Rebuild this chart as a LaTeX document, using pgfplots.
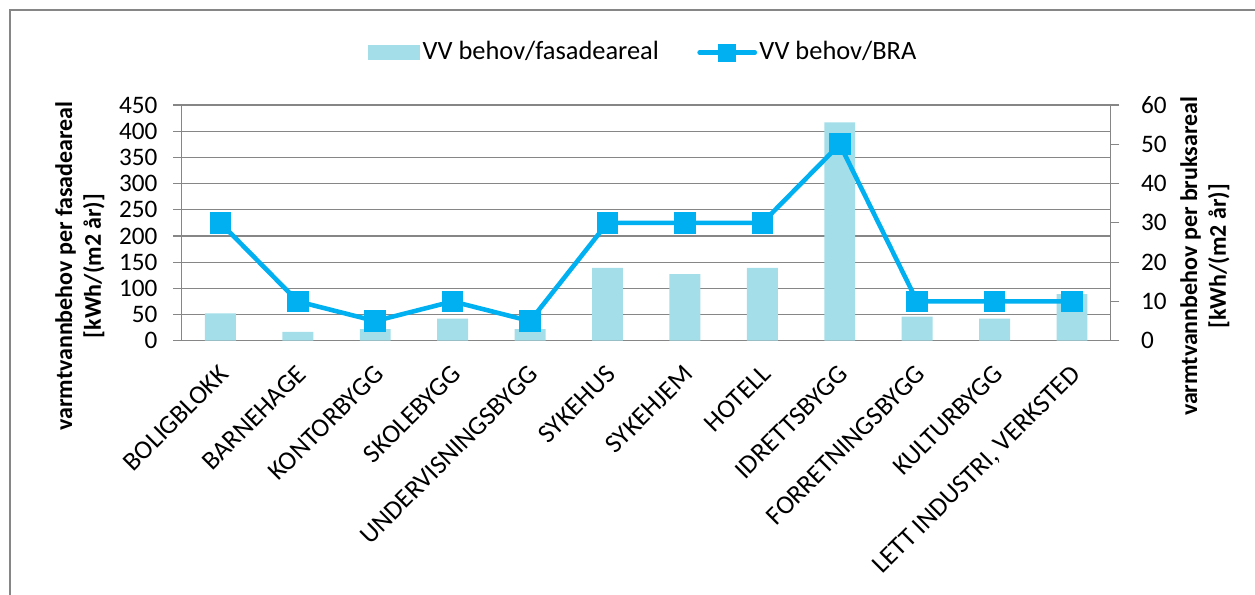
\documentclass[border=0pt]{standalone}
\usepackage{pgfplots}
\pgfplotsset{compat=1.18}
\usepackage{fontspec}
\setmainfont{Carlito}
\definecolor{barcol}{RGB}{164,222,233}
\definecolor{linecol}{RGB}{0,176,240}
\definecolor{axgray}{RGB}{134,134,134}
\begin{document}
\begin{tikzpicture}
\useasboundingbox (0,0) rectangle (522.92pt,247.5pt);
\draw[axgray, line width=0.5pt] (4.17pt,-5pt) -- (4.17pt,243.33pt) -- (530pt,243.33pt);
\begin{axis}[
  at={(75.71pt,105.54pt)}, anchor=south west,
  scale only axis, width=387.08pt, height=98.21pt,
  xmin=-0.5, xmax=11.5, ymin=0, ymax=450,
  ytick={0,50,...,450},
  xtick={0,...,11},
  xticklabels={BOLIGBLOKK,BARNEHAGE,KONTORBYGG,SKOLEBYGG,UNDERVISNINGSBYGG,SYKEHUS,SYKEHJEM,HOTELL,IDRETTSBYGG,FORRETNINGSBYGG,KULTURBYGG,{LETT INDUSTRI, VERKSTED}},
  minor xtick={-0.5,0.5,...,11.5},
  xtick style={draw=none},
  minor x tick style={axgray, line width=0.5pt},
  ytick style={axgray, line width=0.5pt},
  major tick length=3.6pt, minor tick length=3.6pt,
  tick align=outside,
  axis x line*=bottom, axis y line*=left,
  axis line style={axgray, line width=0.5pt, -},
  ymajorgrids, grid style={axgray, line width=0.5pt},
  /pgf/number format/assume math mode=true,
  yticklabel style={font=\fontsize{10.5}{12}\selectfont, xshift=-3pt},
  xticklabel style={rotate=45, anchor=north east, xshift=-1.5pt, font=\fontsize{11}{13}\selectfont},
  ylabel={varmtvannbehov per fasadeareal\\{}[kWh/(m2 år)]},
  ylabel style={at={(axis description cs:-0.1095,0.317)}, anchor=center, align=center, font=\bfseries\fontsize{10}{12}\selectfont},
  legend style={draw=none, at={(axis description cs:0.497,1.2227)}, anchor=center, legend columns=2,
     font=\fontsize{11}{13}\selectfont, /tikz/every even column/.append style={column sep=15pt},
     nodes={inner sep=1pt}},
]
\addplot[ybar, bar width=12.9pt, fill=barcol, draw=none,
  legend image code/.code={\fill[barcol] (0pt,-3.125pt) rectangle (21.7pt,3.125pt);}]
  coordinates {(0,52) (1,17) (2,22) (3,42) (4,22) (5,139) (6,127) (7,139) (8,417) (9,46) (10,42) (11,89)};
\addlegendentry{VV behov/fasadeareal}
\addlegendimage{legend image code/.code={\draw[linecol, line width=1.9pt, line cap=round] (0pt,0pt) -- (23pt,0pt); \fill[linecol] (7.9pt,-3.55pt) rectangle (15.1pt,3.55pt);}}
\addlegendentry{VV behov/BRA}
\end{axis}
\begin{axis}[
  at={(75.71pt,105.54pt)}, anchor=south west,
  scale only axis, width=387.08pt, height=98.21pt,
  xmin=-0.5, xmax=11.5, ymin=0, ymax=60,
  ytick={0,10,...,60},
  axis x line=none, axis y line*=right,
  axis line style={axgray, line width=0.5pt, -},
  ytick style={axgray, line width=0.5pt},
  major tick length=3.6pt, tick align=outside,
  /pgf/number format/assume math mode=true,
  yticklabel style={font=\fontsize{10.5}{12}\selectfont, xshift=5.5pt},
  ylabel={varmtvannbehov per bruksareal\\{}[kWh/(m2 år)]},
  ylabel style={at={(axis description cs:1.1015,0.358)}, anchor=center, align=center, font=\bfseries\fontsize{10}{12}\selectfont},
]
\addplot[linecol, line width=1.9pt, mark=square*, mark size=4.3pt, mark options={fill=linecol, draw=linecol, line width=0pt}]
  coordinates {(0,30) (1,10) (2,5) (3,10) (4,5) (5,30) (6,30) (7,30) (8,50) (9,10) (10,10) (11,10)};
\end{axis}
\end{tikzpicture}
\end{document}
